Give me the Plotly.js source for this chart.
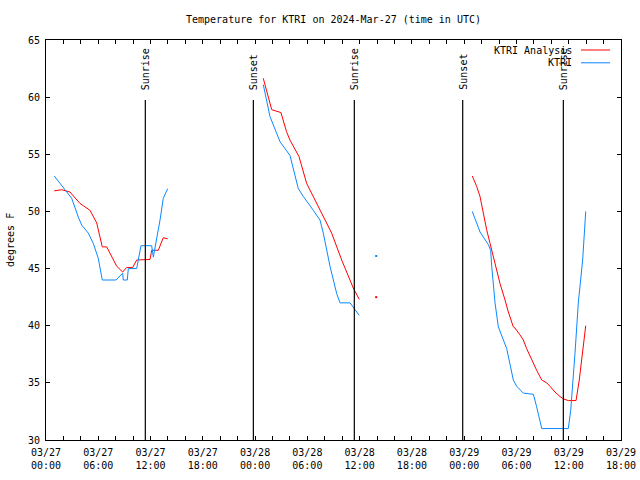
<!DOCTYPE html>
<html>
<head>
<meta charset="utf-8">
<script src="https://cdn.plot.ly/plotly-3.0.1.min.js"></script>
<style>html,body{margin:0;padding:0;background:#fff}#chart{width:640px;height:480px}</style>
</head>
<body>
<div id="chart"></div>
<script>
// Hours after 2024-03-27 00:00 UTC; null separates the data gaps
var obsHours = [0.95, 2.95, 3.71, 4.10, 4.86, 5.43, 6.0, 6.46, 8.03, 8.8, 8.87, 9.33, 9.45, 10.41, 10.9, 12.13, 12.32, 12.7, 13.09, 13.46, 13.97, null,
  24.94, 25.71, 26.86, 28.0, 28.96, 29.54, 30.68, 31.45, 31.83, 32.6, 33.37, 33.75, 34.9, 35.96, null,
  48.93, 49.82, 50.77, 51.04, 51.16, 51.54, 51.92, 52.5, 52.88, 53.64, 54.03, 54.79, 55.94, 56.32, 56.9, 59.95, 60.23, 60.72, 61.1, 61.6, 61.95];
var obsTemps = [53.1, 51.15, 49.5, 48.8, 48.1, 47.2, 45.9, 44.0, 44.0, 44.6, 44.0, 44.0, 45.0, 45.0, 47.0, 47.0, 46.0, 47.5, 49.25, 51.15, 52.0, null,
  61.1, 58.3, 56.1, 54.9, 52.0, 51.3, 50.1, 49.25, 48.1, 45.2, 42.8, 42.0, 42.0, 40.9, null,
  50.0, 48.2, 47.1, 46.6, 45.2, 42.0, 39.9, 38.75, 38.0, 35.25, 34.7, 34.1, 34.0, 32.9, 31.0, 31.0, 32.6, 37.6, 42.0, 45.75, 50.0];

var anaHours = [0.95, 1.8, 2.75, 3.13, 3.9, 4.28, 5.05, 5.82, 6.46, 6.97, 8.12, 8.8, 9.26, 9.95, 10.41, 11.94, 12.13, 12.89, 13.46, 13.97, null,
  24.94, 25.91, 26.97, 27.6, 28.0, 29.04, 29.92, 31.07, 32.79, 33.94, 35.27, 35.96, null,
  48.93, 49.43, 49.82, 50.2, 50.58, 50.97, 51.34, 52.11, 52.69, 53.07, 53.64, 53.83, 54.4, 54.79, 55.17, 55.75, 56.32, 56.9, 57.47, 57.85, 58.42, 59.0, 59.38, 59.95, 60.84, 61.21, 61.67, 61.95];
var anaTemps = [51.8, 51.9, 51.7, 51.4, 50.7, 50.5, 50.1, 49.0, 46.9, 46.9, 45.2, 44.7, 45.1, 45.1, 45.75, 45.8, 46.6, 46.6, 47.7, 47.6, null,
  61.65, 58.9, 58.65, 57.0, 56.25, 54.8, 52.45, 50.7, 48.1, 45.75, 43.3, 42.3, null,
  53.1, 52.2, 51.3, 49.8, 48.4, 47.2, 46.0, 43.7, 42.25, 41.2, 39.9, 39.8, 39.2, 38.75, 38.0, 37.0, 36.1, 35.25, 35.0, 34.7, 34.2, 33.8, 33.6, 33.45, 33.45, 35.25, 38.2, 40.0];

// isolated single readings
var obsDotHours = [37.9], obsDotTemps = [46.1];
var anaDotHours = [37.9], anaDotTemps = [42.5];

var sunHours = [11.4, 23.8, 35.39, 47.83, 59.38];
var sunLabels = ['Sunrise', 'Sunset', 'Sunrise', 'Sunset', 'Sunrise'];

var seriesNames = ['KTRI Analysis', 'KTRI'];
var seriesColors = ['#ff0000', '#0a88ff'];

var yTicks = [30, 35, 40, 45, 50, 55, 60, 65];

function toDate(h) {
  if (h === null) return null;
  var d = new Date(Date.UTC(2024, 2, 27) + h * 3600000);
  return d.toISOString().slice(0, 19).replace('T', ' ');
}

var FONT = 'DejaVu Sans Mono';
var xStart = toDate(0), xEnd = toDate(66);

var traces = [
  {x: anaHours.map(toDate), y: anaTemps, type: 'scatter', mode: 'lines', name: seriesNames[0],
   line: {color: seriesColors[0], width: 1}, connectgaps: false},
  {x: obsHours.map(toDate), y: obsTemps, type: 'scatter', mode: 'lines', name: seriesNames[1],
   line: {color: seriesColors[1], width: 1}, connectgaps: false},
  {x: anaDotHours.map(toDate), y: anaDotTemps, type: 'scatter', mode: 'markers', showlegend: false,
   marker: {color: seriesColors[0], size: 2, symbol: 'square'}},
  {x: obsDotHours.map(toDate), y: obsDotTemps, type: 'scatter', mode: 'markers', showlegend: false,
   marker: {color: seriesColors[1], size: 2, symbol: 'square'}}
];

var shapes = [], annotations = [];
sunHours.forEach(function (h, i) {
  shapes.push({type: 'line', xref: 'x', yref: 'y', x0: toDate(h), x1: toDate(h), y0: 30, y1: 59.75,
    line: {color: '#000', width: 1.2}});
  annotations.push({xref: 'x', yref: 'y', x: toDate(h), y: 60.45, text: sunLabels[i], textangle: -90,
    showarrow: false, xanchor: 'center', yanchor: 'bottom', font: {family: FONT, size: 10, color: '#000'}});
});

// gnuplot-style key (text right, sample line on the right)
var keyY = [0.975, 0.943];
seriesNames.forEach(function (n, i) {
  annotations.push({xref: 'paper', yref: 'paper', x: 0.918, y: keyY[i], text: n, showarrow: false,
    xanchor: 'right', yanchor: 'middle', font: {family: FONT, size: 10, color: '#000'}});
  shapes.push({type: 'line', xref: 'paper', yref: 'paper', x0: 0.9304, x1: 0.9809, y0: keyY[i], y1: keyY[i],
    line: {color: seriesColors[i], width: 1}});
});

annotations.push({xref: 'paper', yref: 'paper', x: -0.0626, y: 0.5, text: 'degrees F', textangle: -90,
  showarrow: false, xanchor: 'center', yanchor: 'middle', font: {family: FONT, size: 10, color: '#000'}});

var layout = {
  width: 640, height: 480,
  margin: {l: 46, r: 19, t: 40, b: 40},
  paper_bgcolor: '#fff', plot_bgcolor: '#fff',
  showlegend: false,
  title: {text: 'Temperature for KTRI on 2024-Mar-27 (time in UTC)', font: {family: FONT, size: 10, color: '#000'},
    xref: 'paper', x: 0.5, xanchor: 'center', yref: 'container', y: 0.9604, yanchor: 'middle'},
  xaxis: {type: 'date', range: [xStart, xEnd], tickmode: 'linear', tick0: xStart, dtick: 6 * 3600000,
    tickformat: '%m/%d<br>%H:%M', ticks: 'inside', ticklen: 4, tickcolor: '#000', mirror: 'allticks',
    showline: true, linecolor: '#000', linewidth: 1, showgrid: false, zeroline: false, ticklabelstandoff: 3,
    minor: {dtick: 2 * 3600000, ticks: 'inside', ticklen: 4, tickcolor: '#000', showgrid: false},
    tickfont: {family: FONT, size: 10, color: '#000'}},
  yaxis: {range: [30, 65], tickmode: 'array', tickvals: yTicks, ticktext: yTicks.map(String),
    ticks: 'inside', ticklen: 4, tickcolor: '#000', mirror: 'allticks', ticklabelstandoff: 3,
    showline: true, linecolor: '#000', linewidth: 1, showgrid: false, zeroline: false,
    tickfont: {family: FONT, size: 10, color: '#000'}},
  shapes: shapes,
  annotations: annotations
};

Plotly.newPlot('chart', traces, layout, {displayModeBar: false, staticPlot: true});
</script>
</body>
</html>
